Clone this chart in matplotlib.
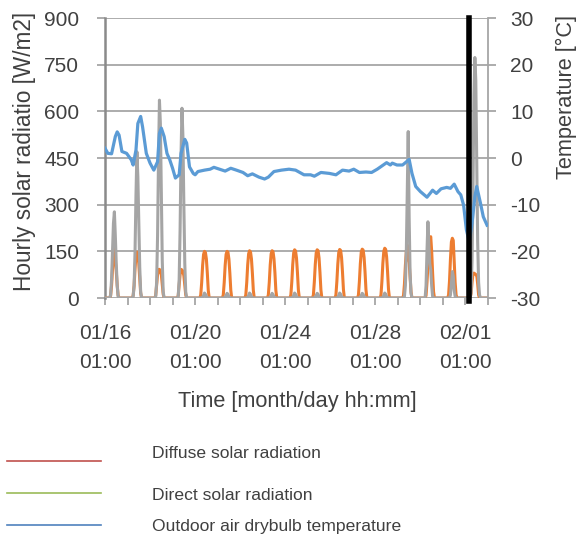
import matplotlib

matplotlib.use("Agg")
import matplotlib.pyplot as plt
import numpy as np
from matplotlib.lines import Line2D

plt.rcParams["font.family"] = ["Liberation Sans Narrow", "Liberation Sans", "DejaVu Sans"]
plt.rcParams["axes.unicode_minus"] = False

# time axis: hours since 01/16 01:00, 17 days
n_days = 17
tick_labels = ["01/16\n01:00", "01/20\n01:00", "01/24\n01:00", "01/28\n01:00", "02/01\n01:00"]

# hourly values read per day, clock 06:00 .. 17:00 (night hours are 0)
day_clock = list(range(6, 18))
diffuse_days = [
    [0, 8, 40, 95, 145, 165, 120, 85, 40, 8, 0, 0],
    [0, 8, 40, 95, 135, 148, 145, 110, 60, 15, 0, 0],
    [0, 8, 40, 75, 92, 92, 85, 75, 45, 12, 0, 0],
    [0, 8, 40, 75, 92, 90, 86, 72, 40, 10, 0, 0],
    [0, 10, 50, 105, 140, 150, 146, 125, 80, 25, 0, 0],
    [0, 10, 50, 105, 140, 150, 147, 125, 80, 25, 0, 0],
    [0, 10, 50, 106, 142, 152, 148, 126, 80, 25, 0, 0],
    [0, 10, 50, 106, 142, 152, 149, 126, 82, 25, 0, 0],
    [0, 10, 52, 108, 145, 155, 151, 128, 82, 26, 0, 0],
    [0, 10, 52, 108, 145, 155, 152, 129, 82, 26, 0, 0],
    [0, 10, 53, 109, 146, 156, 153, 130, 83, 27, 0, 0],
    [0, 10, 53, 110, 148, 157, 154, 131, 84, 27, 0, 0],
    [0, 10, 54, 112, 150, 160, 156, 132, 85, 28, 0, 0],
    [0, 8, 45, 105, 150, 170, 125, 115, 70, 20, 0, 0],
    [0, 8, 50, 105, 160, 190, 197, 150, 80, 20, 0, 0],
    [0, 10, 55, 125, 180, 192, 185, 120, 50, 10, 0, 0],
    [0, 15, 50, 78, 80, 78, 75, 74, 45, 10, 0, 0],
]
direct_days = [
    [0, 10, 60, 150, 240, 277, 200, 110, 40, 5, 0, 0],
    [0, 5, 40, 150, 330, 470, 390, 250, 100, 20, 0, 0],
    [0, 5, 50, 200, 450, 636, 560, 330, 120, 20, 0, 0],
    [0, 5, 60, 220, 460, 610, 520, 300, 110, 20, 0, 0],
    [0, 0, 0, 2, 8, 16, 12, 4, 0, 0, 0, 0],
    [0, 0, 0, 2, 8, 15, 12, 4, 0, 0, 0, 0],
    [0, 0, 0, 2, 8, 16, 12, 4, 0, 0, 0, 0],
    [0, 0, 0, 2, 8, 15, 11, 4, 0, 0, 0, 0],
    [0, 0, 0, 2, 8, 16, 12, 4, 0, 0, 0, 0],
    [0, 0, 0, 2, 8, 15, 12, 4, 0, 0, 0, 0],
    [0, 0, 0, 2, 8, 16, 12, 4, 0, 0, 0, 0],
    [0, 0, 0, 2, 8, 15, 12, 4, 0, 0, 0, 0],
    [0, 0, 0, 2, 8, 16, 12, 4, 0, 0, 0, 0],
    [0, 0, 5, 40, 150, 350, 535, 260, 80, 15, 0, 0],
    [0, 40, 150, 245, 170, 110, 90, 40, 5, 0, 0, 0],
    [0, 0, 0, 10, 45, 85, 70, 25, 5, 0, 0, 0],
    [0, 20, 120, 350, 650, 773, 700, 450, 180, 50, 10, 0],
]

# outdoor air drybulb temperature, read at these hours
temp_hour = [0, 3, 7, 11, 13, 15, 18, 23, 28, 30, 33, 35, 38, 40, 44, 48, 52, 56,
             58, 60, 63, 66, 69, 72, 75, 79, 81, 85, 87, 90, 94, 96, 99, 106, 112,
             116, 122, 128, 134, 140, 147, 152, 157, 164, 170, 174, 180, 188, 196,
             203, 212, 219, 223, 230, 239, 246, 253, 260, 265, 271, 278, 284, 290,
             295, 300, 304, 306, 311, 317, 320, 324, 327, 331, 336, 343, 349, 353,
             358, 364, 368, 372, 376, 379, 382, 385, 388, 391, 394, 396, 400, 403,
             407]
temp_c = [2.1, 1.0, 0.9, 4.6, 5.6, 4.9, 1.4, 1.0, -0.4, -1.5, 1.7, 7.4, 8.9, 6.7,
          1.0, -1.1, -2.6, -0.8, 5.3, 6.4, 4.6, 1.0, -0.4, -2.2, -4.3, -3.6, 1.0,
          4.0, 3.2, -1.9, -3.3, -3.6, -2.9, -2.6, -2.4, -2.0, -2.4, -2.8, -2.2,
          -2.6, -3.1, -3.8, -3.4, -4.1, -4.5, -4.1, -2.9, -2.6, -2.4, -2.6, -3.6,
          -3.6, -3.9, -3.1, -3.3, -3.6, -2.6, -2.8, -2.4, -3.1, -3.0, -3.1, -2.4,
          -1.7, -1.0, -1.5, -1.1, -1.5, -1.5, -1.0, -0.3, -3.3, -6.1, -7.2, -8.4,
          -6.9, -7.6, -6.6, -6.3, -6.5, -5.6, -7.2, -7.9, -10.1, -15.4, -17.9,
          -14.0, -8.3, -6.1, -9.7, -12.6, -14.4]

marker_hour = 388

hours = np.arange(n_days * 24 + 1)
diffuse = np.zeros(len(hours))
direct = np.zeros(len(hours))
for d in range(n_days):
    for c, dv, sv in zip(day_clock, diffuse_days[d], direct_days[d]):
        diffuse[d * 24 + c - 1] = dv
        direct[d * 24 + c - 1] = sv

txt = "#404040"
grid_c = "#a6a6a6"
tick_sz = 15

fig = plt.figure(figsize=(5.84, 5.43), dpi=100)
ax = fig.add_axes([105 / 584, 1 - 298 / 543, 383 / 584, 280 / 543])
ax2 = ax.twinx()

ax.plot(hours, diffuse, color="#ed7d31", lw=2.2, zorder=3)
ax.plot(hours, direct, color="#a5a5a5", lw=2.2, zorder=4)
ax2.plot(temp_hour, temp_c, color="#5b9bd5", lw=2.3, zorder=5)
ax2.axvline(marker_hour, ymin=-0.012, ymax=1, color="black", lw=4, clip_on=False, zorder=6)

ax.set_xlim(0, n_days * 24)
ax.set_ylim(0, 900)
ax2.set_ylim(-30, 30)
ax.set_yticks(np.arange(0, 901, 150))
ax2.set_yticks(np.arange(-30, 31, 10))
ax.set_xticks(np.arange(0, n_days * 24, 96))
ax.set_xticklabels(tick_labels, linespacing=1.72)
ax.set_xticks(np.arange(0, n_days * 24 + 1, 24), minor=True)

ax.grid(axis="y", color=grid_c, lw=1.3)
ax.set_axisbelow(True)
for s in ["top", "right", "bottom"]:
    ax.spines[s].set_visible(False)
ax.spines["left"].set_color("#8a8a8a")
ax.spines["left"].set_linewidth(1.8)
for s in ["top", "left", "bottom"]:
    ax2.spines[s].set_visible(False)
ax2.spines["right"].set_color(grid_c)
ax2.spines["right"].set_linewidth(1.3)

ax.tick_params(axis="y", length=6, width=1.3, color=grid_c, labelsize=tick_sz, labelcolor=txt, pad=12.5)
ax2.tick_params(axis="y", length=6, width=1.3, color=grid_c, labelsize=tick_sz, labelcolor=txt, pad=10)
ax.tick_params(axis="x", which="both", length=5, width=1.3, color=grid_c, labelsize=tick_sz,
               labelcolor=txt, pad=13.5)

ax.set_ylabel("Hourly solar radiatio [W/m2]", fontsize=16.3, color=txt, va="center")
ax.yaxis.set_label_coords(-0.209, 0.523)
ax2.set_ylabel("Temperature [°C]", fontsize=15.7, color=txt, va="center")
ax2.yaxis.set_label_coords(1.206, 0.718)
ax.set_xlabel("Time [month/day hh:mm]", fontsize=15.7, color=txt, va="center")
ax.xaxis.set_label_coords(0.501, -0.37)

# legend drawn below the chart
legend_names = ["Diffuse solar radiation", "Direct solar radiation", "Outdoor air drybulb temperature"]
legend_colors = ["#c0504d", "#9bbb59", "#4f81bd"]
line_y = [461, 493, 525]
text_y = [453, 495, 527]
for name, col, ly, ty in zip(legend_names, legend_colors, line_y, text_y):
    fig.add_artist(Line2D([7 / 584, 101 / 584], [1 - ly / 543] * 2, color=col, lw=1.2))
    fig.text(152 / 584, 1 - ty / 543, name, fontsize=12.6, color=txt, va="center", ha="left")

fig.savefig("out.png", dpi=100)
